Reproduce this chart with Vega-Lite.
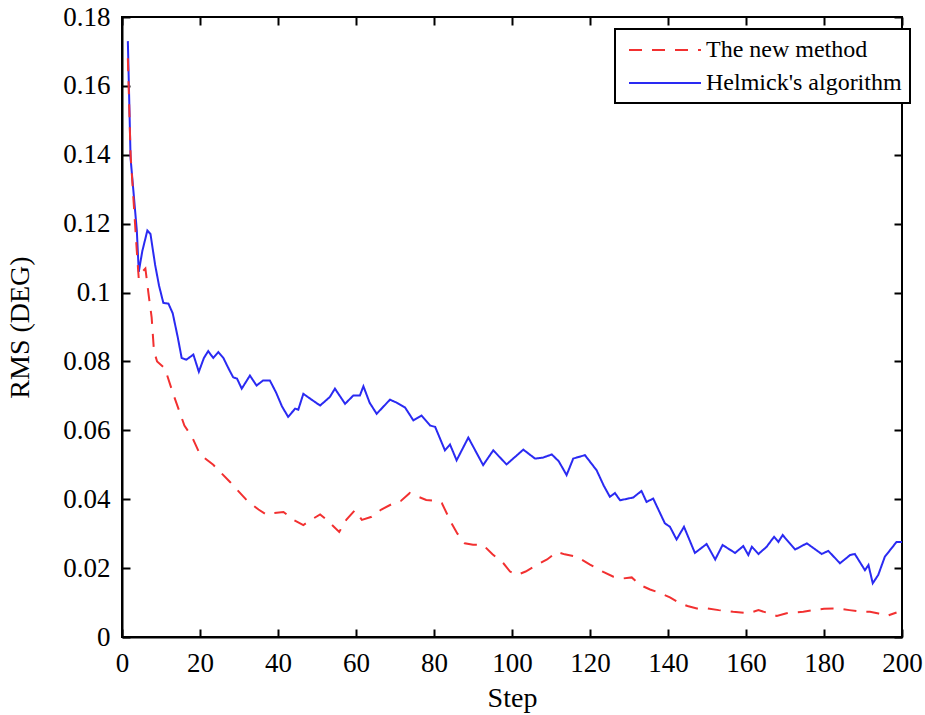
{
  "$schema": "https://vega.github.io/schema/vega-lite/v6.json",
  "width": 780,
  "height": 620,
  "autosize": {"type": "none"},
  "padding": {"left": 122, "top": 17, "right": 23, "bottom": 78},
  "background": "white",
  "config": {
    "view": {"stroke": "black", "strokeWidth": 2},
    "font": "Liberation Serif",
    "legend": {"strokeWidth": 2},
    "axis": {
      "labelFont": "Liberation Serif",
      "titleFont": "Liberation Serif",
      "labelFontSize": 27,
      "titleFontSize": 28,
      "titleFontWeight": "normal",
      "labelColor": "black",
      "titleColor": "black",
      "domainColor": "black",
      "domainWidth": 2,
      "tickColor": "black",
      "tickWidth": 2,
      "tickSize": -8,
      "grid": false
    }
  },
  "data": {
    "values": [
      {"step": 1.5, "rms": 0.173, "series": "Helmick's algorithm"},
      {"step": 2.2, "rms": 0.139, "series": "Helmick's algorithm"},
      {"step": 3.8, "rms": 0.118, "series": "Helmick's algorithm"},
      {"step": 4.3, "rms": 0.106, "series": "Helmick's algorithm"},
      {"step": 5.2, "rms": 0.112, "series": "Helmick's algorithm"},
      {"step": 6.5, "rms": 0.118, "series": "Helmick's algorithm"},
      {"step": 7.3, "rms": 0.117, "series": "Helmick's algorithm"},
      {"step": 8.5, "rms": 0.108, "series": "Helmick's algorithm"},
      {"step": 9.5, "rms": 0.102, "series": "Helmick's algorithm"},
      {"step": 10.6, "rms": 0.097, "series": "Helmick's algorithm"},
      {"step": 11.9, "rms": 0.0968, "series": "Helmick's algorithm"},
      {"step": 13.0, "rms": 0.094, "series": "Helmick's algorithm"},
      {"step": 14.3, "rms": 0.087, "series": "Helmick's algorithm"},
      {"step": 15.3, "rms": 0.081, "series": "Helmick's algorithm"},
      {"step": 16.5, "rms": 0.0805, "series": "Helmick's algorithm"},
      {"step": 18.3, "rms": 0.082, "series": "Helmick's algorithm"},
      {"step": 19.7, "rms": 0.077, "series": "Helmick's algorithm"},
      {"step": 21.0, "rms": 0.081, "series": "Helmick's algorithm"},
      {"step": 22.1, "rms": 0.083, "series": "Helmick's algorithm"},
      {"step": 23.4, "rms": 0.081, "series": "Helmick's algorithm"},
      {"step": 24.7, "rms": 0.0827, "series": "Helmick's algorithm"},
      {"step": 26.0, "rms": 0.081, "series": "Helmick's algorithm"},
      {"step": 27.3, "rms": 0.078, "series": "Helmick's algorithm"},
      {"step": 28.5, "rms": 0.0754, "series": "Helmick's algorithm"},
      {"step": 29.5, "rms": 0.075, "series": "Helmick's algorithm"},
      {"step": 30.7, "rms": 0.0721, "series": "Helmick's algorithm"},
      {"step": 32.8, "rms": 0.0759, "series": "Helmick's algorithm"},
      {"step": 34.5, "rms": 0.073, "series": "Helmick's algorithm"},
      {"step": 36.2, "rms": 0.0745, "series": "Helmick's algorithm"},
      {"step": 37.9, "rms": 0.0745, "series": "Helmick's algorithm"},
      {"step": 39.5, "rms": 0.071, "series": "Helmick's algorithm"},
      {"step": 41.0, "rms": 0.067, "series": "Helmick's algorithm"},
      {"step": 42.6, "rms": 0.0639, "series": "Helmick's algorithm"},
      {"step": 44.4, "rms": 0.0663, "series": "Helmick's algorithm"},
      {"step": 45.2, "rms": 0.066, "series": "Helmick's algorithm"},
      {"step": 46.5, "rms": 0.0706, "series": "Helmick's algorithm"},
      {"step": 48.5, "rms": 0.069, "series": "Helmick's algorithm"},
      {"step": 50.8, "rms": 0.0672, "series": "Helmick's algorithm"},
      {"step": 53.3, "rms": 0.0697, "series": "Helmick's algorithm"},
      {"step": 54.6, "rms": 0.0721, "series": "Helmick's algorithm"},
      {"step": 57.2, "rms": 0.0677, "series": "Helmick's algorithm"},
      {"step": 59.3, "rms": 0.0701, "series": "Helmick's algorithm"},
      {"step": 61.0, "rms": 0.0701, "series": "Helmick's algorithm"},
      {"step": 61.9, "rms": 0.0728, "series": "Helmick's algorithm"},
      {"step": 63.5, "rms": 0.068, "series": "Helmick's algorithm"},
      {"step": 65.3, "rms": 0.0648, "series": "Helmick's algorithm"},
      {"step": 68.7, "rms": 0.0689, "series": "Helmick's algorithm"},
      {"step": 70.5, "rms": 0.068, "series": "Helmick's algorithm"},
      {"step": 72.6, "rms": 0.0666, "series": "Helmick's algorithm"},
      {"step": 74.7, "rms": 0.0629, "series": "Helmick's algorithm"},
      {"step": 76.8, "rms": 0.0643, "series": "Helmick's algorithm"},
      {"step": 79.0, "rms": 0.0614, "series": "Helmick's algorithm"},
      {"step": 80.3, "rms": 0.061, "series": "Helmick's algorithm"},
      {"step": 82.8, "rms": 0.0542, "series": "Helmick's algorithm"},
      {"step": 84.1, "rms": 0.0559, "series": "Helmick's algorithm"},
      {"step": 85.8, "rms": 0.0513, "series": "Helmick's algorithm"},
      {"step": 88.8, "rms": 0.0579, "series": "Helmick's algorithm"},
      {"step": 92.6, "rms": 0.0499, "series": "Helmick's algorithm"},
      {"step": 95.2, "rms": 0.0542, "series": "Helmick's algorithm"},
      {"step": 98.6, "rms": 0.0501, "series": "Helmick's algorithm"},
      {"step": 102.9, "rms": 0.0544, "series": "Helmick's algorithm"},
      {"step": 105.9, "rms": 0.0518, "series": "Helmick's algorithm"},
      {"step": 108.0, "rms": 0.0521, "series": "Helmick's algorithm"},
      {"step": 110.2, "rms": 0.053, "series": "Helmick's algorithm"},
      {"step": 112.0, "rms": 0.051, "series": "Helmick's algorithm"},
      {"step": 114.0, "rms": 0.047, "series": "Helmick's algorithm"},
      {"step": 115.7, "rms": 0.0518, "series": "Helmick's algorithm"},
      {"step": 118.7, "rms": 0.0528, "series": "Helmick's algorithm"},
      {"step": 121.7, "rms": 0.0484, "series": "Helmick's algorithm"},
      {"step": 123.5, "rms": 0.044, "series": "Helmick's algorithm"},
      {"step": 125.1, "rms": 0.0407, "series": "Helmick's algorithm"},
      {"step": 126.4, "rms": 0.0418, "series": "Helmick's algorithm"},
      {"step": 127.7, "rms": 0.0397, "series": "Helmick's algorithm"},
      {"step": 131.1, "rms": 0.0405, "series": "Helmick's algorithm"},
      {"step": 133.2, "rms": 0.0424, "series": "Helmick's algorithm"},
      {"step": 134.5, "rms": 0.0392, "series": "Helmick's algorithm"},
      {"step": 136.2, "rms": 0.0402, "series": "Helmick's algorithm"},
      {"step": 139.2, "rms": 0.033, "series": "Helmick's algorithm"},
      {"step": 140.5, "rms": 0.032, "series": "Helmick's algorithm"},
      {"step": 142.2, "rms": 0.0283, "series": "Helmick's algorithm"},
      {"step": 144.1, "rms": 0.032, "series": "Helmick's algorithm"},
      {"step": 146.9, "rms": 0.0244, "series": "Helmick's algorithm"},
      {"step": 149.9, "rms": 0.027, "series": "Helmick's algorithm"},
      {"step": 152.1, "rms": 0.0225, "series": "Helmick's algorithm"},
      {"step": 154.0, "rms": 0.0267, "series": "Helmick's algorithm"},
      {"step": 157.2, "rms": 0.0244, "series": "Helmick's algorithm"},
      {"step": 159.3, "rms": 0.0264, "series": "Helmick's algorithm"},
      {"step": 160.6, "rms": 0.0238, "series": "Helmick's algorithm"},
      {"step": 161.5, "rms": 0.0262, "series": "Helmick's algorithm"},
      {"step": 163.2, "rms": 0.0241, "series": "Helmick's algorithm"},
      {"step": 165.3, "rms": 0.0262, "series": "Helmick's algorithm"},
      {"step": 167.2, "rms": 0.0291, "series": "Helmick's algorithm"},
      {"step": 168.3, "rms": 0.0276, "series": "Helmick's algorithm"},
      {"step": 169.4, "rms": 0.0296, "series": "Helmick's algorithm"},
      {"step": 172.6, "rms": 0.0254, "series": "Helmick's algorithm"},
      {"step": 175.6, "rms": 0.0272, "series": "Helmick's algorithm"},
      {"step": 179.4, "rms": 0.0241, "series": "Helmick's algorithm"},
      {"step": 181.1, "rms": 0.025, "series": "Helmick's algorithm"},
      {"step": 184.1, "rms": 0.0214, "series": "Helmick's algorithm"},
      {"step": 186.7, "rms": 0.0238, "series": "Helmick's algorithm"},
      {"step": 187.9, "rms": 0.0241, "series": "Helmick's algorithm"},
      {"step": 190.5, "rms": 0.0194, "series": "Helmick's algorithm"},
      {"step": 191.4, "rms": 0.0209, "series": "Helmick's algorithm"},
      {"step": 192.5, "rms": 0.0156, "series": "Helmick's algorithm"},
      {"step": 193.9, "rms": 0.018, "series": "Helmick's algorithm"},
      {"step": 195.6, "rms": 0.0233, "series": "Helmick's algorithm"},
      {"step": 198.6, "rms": 0.0276, "series": "Helmick's algorithm"},
      {"step": 200.0, "rms": 0.0276, "series": "Helmick's algorithm"},

      {"step": 1.5, "rms": 0.168, "series": "The new method"},
      {"step": 2.2, "rms": 0.14, "series": "The new method"},
      {"step": 3.8, "rms": 0.112, "series": "The new method"},
      {"step": 4.3, "rms": 0.104, "series": "The new method"},
      {"step": 5.2, "rms": 0.106, "series": "The new method"},
      {"step": 6.0, "rms": 0.107, "series": "The new method"},
      {"step": 6.8, "rms": 0.0996, "series": "The new method"},
      {"step": 7.6, "rms": 0.0928, "series": "The new method"},
      {"step": 8.2, "rms": 0.083, "series": "The new method"},
      {"step": 9.0, "rms": 0.08, "series": "The new method"},
      {"step": 11.0, "rms": 0.078, "series": "The new method"},
      {"step": 13.0, "rms": 0.071, "series": "The new method"},
      {"step": 16.0, "rms": 0.0614, "series": "The new method"},
      {"step": 18.0, "rms": 0.058, "series": "The new method"},
      {"step": 20.0, "rms": 0.053, "series": "The new method"},
      {"step": 23.4, "rms": 0.05, "series": "The new method"},
      {"step": 27.7, "rms": 0.045, "series": "The new method"},
      {"step": 32.0, "rms": 0.0397, "series": "The new method"},
      {"step": 35.0, "rms": 0.037, "series": "The new method"},
      {"step": 37.1, "rms": 0.0355, "series": "The new method"},
      {"step": 39.0, "rms": 0.036, "series": "The new method"},
      {"step": 41.4, "rms": 0.0363, "series": "The new method"},
      {"step": 44.0, "rms": 0.034, "series": "The new method"},
      {"step": 46.5, "rms": 0.0325, "series": "The new method"},
      {"step": 48.5, "rms": 0.034, "series": "The new method"},
      {"step": 50.8, "rms": 0.0356, "series": "The new method"},
      {"step": 52.1, "rms": 0.0344, "series": "The new method"},
      {"step": 55.7, "rms": 0.0305, "series": "The new method"},
      {"step": 57.5, "rms": 0.034, "series": "The new method"},
      {"step": 59.7, "rms": 0.0368, "series": "The new method"},
      {"step": 61.5, "rms": 0.034, "series": "The new method"},
      {"step": 64.0, "rms": 0.0349, "series": "The new method"},
      {"step": 66.5, "rms": 0.037, "series": "The new method"},
      {"step": 69.2, "rms": 0.0386, "series": "The new method"},
      {"step": 71.5, "rms": 0.0395, "series": "The new method"},
      {"step": 73.8, "rms": 0.0418, "series": "The new method"},
      {"step": 75.6, "rms": 0.0409, "series": "The new method"},
      {"step": 78.0, "rms": 0.0398, "series": "The new method"},
      {"step": 80.7, "rms": 0.0395, "series": "The new method"},
      {"step": 82.0, "rms": 0.0389, "series": "The new method"},
      {"step": 84.5, "rms": 0.033, "series": "The new method"},
      {"step": 86.0, "rms": 0.03, "series": "The new method"},
      {"step": 87.9, "rms": 0.0272, "series": "The new method"},
      {"step": 90.0, "rms": 0.0268, "series": "The new method"},
      {"step": 92.6, "rms": 0.0267, "series": "The new method"},
      {"step": 95.0, "rms": 0.024, "series": "The new method"},
      {"step": 97.8, "rms": 0.0214, "series": "The new method"},
      {"step": 99.5, "rms": 0.019, "series": "The new method"},
      {"step": 101.2, "rms": 0.018, "series": "The new method"},
      {"step": 103.5, "rms": 0.019, "series": "The new method"},
      {"step": 106.3, "rms": 0.0209, "series": "The new method"},
      {"step": 109.0, "rms": 0.0225, "series": "The new method"},
      {"step": 111.5, "rms": 0.0247, "series": "The new method"},
      {"step": 113.5, "rms": 0.024, "series": "The new method"},
      {"step": 116.6, "rms": 0.0233, "series": "The new method"},
      {"step": 120.0, "rms": 0.021, "series": "The new method"},
      {"step": 123.4, "rms": 0.0189, "series": "The new method"},
      {"step": 126.0, "rms": 0.0175, "series": "The new method"},
      {"step": 128.5, "rms": 0.017, "series": "The new method"},
      {"step": 130.7, "rms": 0.0173, "series": "The new method"},
      {"step": 133.0, "rms": 0.015, "series": "The new method"},
      {"step": 135.4, "rms": 0.0138, "series": "The new method"},
      {"step": 137.9, "rms": 0.0128, "series": "The new method"},
      {"step": 140.5, "rms": 0.0115, "series": "The new method"},
      {"step": 143.1, "rms": 0.0098, "series": "The new method"},
      {"step": 145.0, "rms": 0.009, "series": "The new method"},
      {"step": 147.4, "rms": 0.0083, "series": "The new method"},
      {"step": 149.9, "rms": 0.0083, "series": "The new method"},
      {"step": 153.0, "rms": 0.0078, "series": "The new method"},
      {"step": 156.7, "rms": 0.0073, "series": "The new method"},
      {"step": 160.6, "rms": 0.0069, "series": "The new method"},
      {"step": 163.2, "rms": 0.0078, "series": "The new method"},
      {"step": 165.5, "rms": 0.007, "series": "The new method"},
      {"step": 167.9, "rms": 0.0061, "series": "The new method"},
      {"step": 170.4, "rms": 0.0069, "series": "The new method"},
      {"step": 174.7, "rms": 0.0073, "series": "The new method"},
      {"step": 177.3, "rms": 0.0078, "series": "The new method"},
      {"step": 180.0, "rms": 0.0082, "series": "The new method"},
      {"step": 183.3, "rms": 0.0083, "series": "The new method"},
      {"step": 186.5, "rms": 0.0078, "series": "The new method"},
      {"step": 190.1, "rms": 0.0073, "series": "The new method"},
      {"step": 191.8, "rms": 0.0073, "series": "The new method"},
      {"step": 194.0, "rms": 0.0068, "series": "The new method"},
      {"step": 196.1, "rms": 0.0061, "series": "The new method"},
      {"step": 198.6, "rms": 0.0071, "series": "The new method"}
    ]
  },
  "layer": [
    {
      "mark": {"type": "line", "strokeWidth": 2, "clip": true},
      "encoding": {
        "x": {
          "field": "step", "type": "quantitative",
          "scale": {"domain": [0, 200], "nice": false},
          "axis": {"orient": "bottom", "title": "Step", "values": [0,20,40,60,80,100,120,140,160,180,200], "labelPadding": 21, "titlePadding": 8, "labelFlush": false}
        },
        "y": {
          "field": "rms", "type": "quantitative",
          "scale": {"domain": [0, 0.18], "nice": false},
          "axis": {"orient": "left", "title": "RMS (DEG)", "values": [0,0.02,0.04,0.06,0.08,0.1,0.12,0.14,0.16,0.18], "format": "~g", "labelPadding": 20, "titlePadding": 28, "labelFlush": false}
        },
        "color": {
          "field": "series", "type": "nominal",
          "scale": {"domain": ["The new method", "Helmick's algorithm"], "range": ["#f23030", "#2a2af2"]},
          "legend": {
            "title": null,
            "orient": "none",
            "legendX": 493,
            "legendY": 12,
            "strokeColor": "black",
            "fillColor": "white",
            "padding": 8,
            "rowPadding": 8,
            "symbolType": "M-3,0H3",
            "symbolSize": 576,
            "symbolStrokeWidth": 2,
            "symbolOffset": 29,
            "labelOffset": 28,
            "labelFont": "Liberation Serif",
            "labelFontSize": 24,
            "labelColor": "black",
            "labelLimit": 400
          }
        },
        "strokeDash": {
          "field": "series", "type": "nominal",
          "scale": {"domain": ["The new method", "Helmick's algorithm"], "range": [[13, 10], [1, 0]]},
          "legend": null
        }
      }
    },
    {
      "mark": {"type": "line", "strokeOpacity": 0},
      "encoding": {
        "x": {
          "field": "step", "type": "quantitative",
          "axis": {"orient": "top", "title": null, "labels": false, "domain": false, "values": [0,20,40,60,80,100,120,140,160,180,200]}
        },
        "y": {
          "field": "rms", "type": "quantitative",
          "axis": {"orient": "right", "title": null, "labels": false, "domain": false, "values": [0,0.02,0.04,0.06,0.08,0.1,0.12,0.14,0.16,0.18]}
        },
        "detail": {"field": "series", "type": "nominal"}
      }
    }
  ]
}
